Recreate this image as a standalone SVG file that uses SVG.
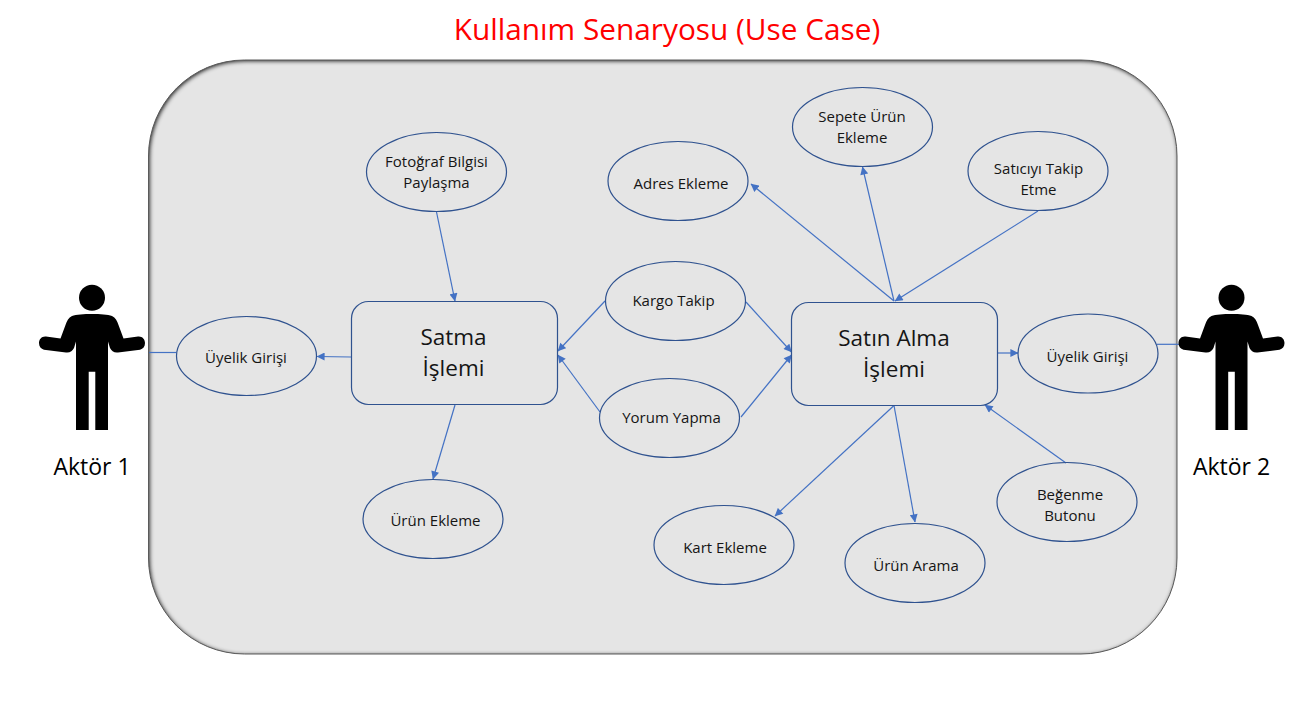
<svg xmlns="http://www.w3.org/2000/svg" width="1308" height="714" viewBox="0 0 1308 714">
<style>
text{font-family:"Open Sans","Noto Sans","Liberation Sans",sans-serif;text-anchor:middle;fill:#151515}
.s{font-size:15px}
.b{font-size:22.500px}
.a{font-size:23px;fill:#000}
.t{font-size:29.800px;fill:#ff0000}
.n{fill:none;stroke:#2f528f;stroke-width:1.2}
.c line{stroke:#4472c4;stroke-width:1.2}
.h{marker-end:url(#arr)}
</style>
<defs>
<marker id="arr" viewBox="0 0 10 10" refX="9.5" refY="5" markerUnits="userSpaceOnUse" markerWidth="9" markerHeight="8" orient="auto"><path d="M0 0L10 5L0 10Z" fill="#4472c4"/></marker>
<filter id="inner" x="-5%" y="-5%" width="110%" height="110%" color-interpolation-filters="sRGB">
<feComponentTransfer in="SourceAlpha" result="inv"><feFuncA type="table" tableValues="1 0"/></feComponentTransfer>
<feGaussianBlur in="inv" stdDeviation="2.200" result="bl"/>
<feOffset in="bl" dx="0.800" dy="0.800" result="off"/>
<feFlood flood-color="#000" flood-opacity="0.9"/>
<feComposite in2="off" operator="in"/>
<feComposite in2="SourceAlpha" operator="in" result="sh"/>
<feMerge><feMergeNode in="SourceGraphic"/><feMergeNode in="sh"/></feMerge>
</filter>
<g id="actor">
<circle cx="92" cy="297.700" r="13"/>
<path d="M92 314C100 314 108 314.500 112 316C115.500 317.500 117 321 118.500 325L123.500 338.500L138 336.500C142 336 145 339 145 343C145 346.500 143 349 140 349.700L118 352.500C114 353 111.500 351 110 348L108 341.500V430H95.300V371.700H88.700V430H76V341.500L74 348C72.500 351 70 353 66 352.500L44 349.700C41 349 39 346.500 39 343C39 339 42 336 46 336.500L60.500 338.500L65.500 325C67 321 68.500 317.500 72 316C76 314.500 84 314 92 314Z"/>
</g>
</defs>
<rect width="1308" height="714" fill="#fff"/>
<text id="title" class="t" x="667" y="40">Kullanım Senaryosu (Use Case)</text>
<g id="system"><rect x="148.500" y="60" width="1028.500" height="594" rx="96" ry="96" fill="#e5e5e5" filter="url(#inner)"/><rect x="148.500" y="60" width="1028.500" height="594" rx="96" ry="96" fill="none" stroke="#5a5a5a" stroke-width="1"/></g>
<g id="connectors" class="c">
<line x1="149" y1="352.500" x2="176" y2="352.500"/>
<line x1="1157" y1="344.300" x2="1183" y2="344.300"/>
<line class="h" x1="351" y1="357" x2="317" y2="356.500"/>
<line class="h" x1="436.500" y1="212" x2="455" y2="301"/>
<line class="h" x1="455" y1="405" x2="433" y2="479"/>
<line class="h" x1="605" y1="301" x2="558" y2="351"/>
<line class="h" x1="600" y1="412" x2="558" y2="355"/>
<line class="h" x1="746" y1="302" x2="791.500" y2="352"/>
<line class="h" x1="741" y1="417" x2="791.500" y2="355"/>
<line class="h" x1="894" y1="301" x2="751" y2="184"/>
<line class="h" x1="894" y1="301" x2="862.500" y2="167"/>
<line class="h" x1="1038" y1="211" x2="895" y2="301"/>
<line class="h" x1="997.500" y1="353" x2="1018" y2="353"/>
<line class="h" x1="1066" y1="463" x2="985" y2="405"/>
<line class="h" x1="894" y1="405.500" x2="775" y2="516"/>
<line class="h" x1="894" y1="405.500" x2="915" y2="522"/>
</g>
<g id="actor1"><use href="#actor"/><text class="a" x="92" y="475">Aktör 1</text></g>
<g id="actor2"><use href="#actor" x="1139.500"/><text class="a" x="1231.500" y="475">Aktör 2</text></g>
<g id="uyelik1"><ellipse class="n" cx="246.500" cy="356" rx="70" ry="39.500"/><text class="s" x="246" y="363">Üyelik Girişi</text></g>
<g id="fotograf"><ellipse class="n" cx="436.500" cy="172" rx="70" ry="39.500"/><text class="s" x="436.500" y="167">Fotoğraf Bilgisi</text><text class="s" x="436.500" y="188">Paylaşma</text></g>
<g id="urun-ekleme"><ellipse class="n" cx="433" cy="519" rx="70" ry="39.500"/><text class="s" x="435.500" y="526">Ürün Ekleme</text></g>
<g id="satma"><rect class="n" x="351.500" y="301.500" width="206" height="103" rx="17" ry="17"/><text class="b" x="453.500" y="345">Satma</text><text class="b" x="453.500" y="376">İşlemi</text></g>
<g id="kargo"><ellipse class="n" cx="675.500" cy="301" rx="70" ry="39.500"/><text class="s" x="673.500" y="306">Kargo Takip</text></g>
<g id="yorum"><ellipse class="n" cx="669.500" cy="418" rx="70" ry="39.500"/><text class="s" x="671.500" y="423">Yorum Yapma</text></g>
<g id="satin-alma"><rect class="n" x="791.500" y="302.500" width="206" height="103" rx="17" ry="17"/><text class="b" x="894" y="346">Satın Alma</text><text class="b" x="894" y="377">İşlemi</text></g>
<g id="adres"><ellipse class="n" cx="678" cy="181" rx="70" ry="39.500"/><text class="s" x="681" y="189">Adres Ekleme</text></g>
<g id="sepete"><ellipse class="n" cx="862.500" cy="127" rx="70" ry="39.500"/><text class="s" x="862" y="122">Sepete Ürün</text><text class="s" x="862" y="143">Ekleme</text></g>
<g id="satici"><ellipse class="n" cx="1038" cy="171" rx="70" ry="39.500"/><text class="s" x="1038.500" y="174">Satıcıyı Takip</text><text class="s" x="1038.500" y="195">Etme</text></g>
<g id="uyelik2"><ellipse class="n" cx="1088" cy="353.500" rx="70" ry="39.500"/><text class="s" x="1087.500" y="362">Üyelik Girişi</text></g>
<g id="begenme"><ellipse class="n" cx="1067" cy="502" rx="70" ry="39.500"/><text class="s" x="1070" y="500">Beğenme</text><text class="s" x="1070" y="521">Butonu</text></g>
<g id="urun-arama"><ellipse class="n" cx="915" cy="563" rx="70" ry="39.500"/><text class="s" x="916" y="571">Ürün Arama</text></g>
<g id="kart"><ellipse class="n" cx="724" cy="545" rx="70" ry="39.500"/><text class="s" x="725" y="553">Kart Ekleme</text></g>
</svg>
